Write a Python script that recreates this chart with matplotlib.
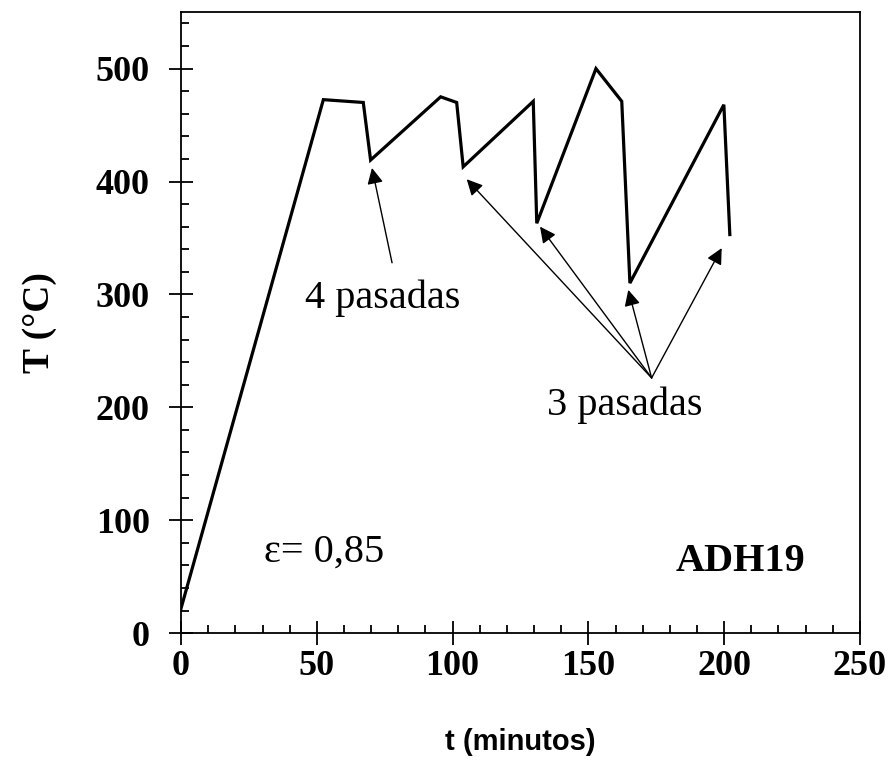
import numpy as np
import matplotlib.pyplot as plt
from matplotlib.ticker import MultipleLocator

# curva temperatura - tiempo (ADH19)
t = [0, 52.4, 67.1, 69.8, 95.6, 101.5, 103.9, 129.7, 131.0, 152.8, 162.3, 165.3, 199.9, 202.1]
T = [22, 472.5, 470, 419, 475, 470, 413, 471, 363, 500, 471, 310, 468, 353]

# flechas
tip_4 = (70.3, 412)
tail_4 = (77.7, 328)
tips_3 = [(105.2, 402), (132.2, 360), (164.7, 304), (199.1, 341)]
tail_3 = (173.3, 226)

serif = 'Liberation Serif'
sans = 'Liberation Sans'

fig = plt.figure(figsize=(8.92, 7.6), dpi=100)
ax = fig.add_axes([0.203, 0.167, 0.761, 0.817])

ax.plot(t, T, color='black', lw=2.3, solid_joinstyle='miter')

ap = dict(arrowstyle='-|>', color='black', lw=1.0, mutation_scale=24, shrinkA=0, shrinkB=0)
ax.annotate('', xy=tip_4, xytext=tail_4, arrowprops=ap)
for tp in tips_3:
    ax.annotate('', xy=tp, xytext=tail_3, arrowprops=ap)

ax.text(45.5, 297, '4 pasadas', family=serif, fontsize=29, ha='left', va='center')
ax.text(163.5, 202, '3 pasadas', family=serif, fontsize=29, ha='center', va='center')
ax.text(52.5, 72, 'ε= 0,85', family=serif, fontsize=29, ha='center', va='center')
ax.text(206, 63, 'ADH19', family=serif, fontsize=29, fontweight='bold', ha='center', va='center')

ax.set_xlim(0, 250)
ax.set_ylim(0, 550)
ax.xaxis.set_major_locator(MultipleLocator(50))
ax.xaxis.set_minor_locator(MultipleLocator(10))
ax.yaxis.set_major_locator(MultipleLocator(100))
ax.yaxis.set_minor_locator(MultipleLocator(20))
ax.set_yticks([0, 100, 200, 300, 400, 500])

ax.tick_params(which='major', direction='inout', length=17, width=1.3)
ax.tick_params(axis='y', which='major', pad=14)
ax.tick_params(axis='x', which='major', pad=4)
ax.tick_params(which='minor', direction='in', length=6, width=1.3)
ax.tick_params(top=False, right=False, which='both')
for lab in ax.get_xticklabels() + ax.get_yticklabels():
    lab.set_family(serif)
    lab.set_fontweight('bold')
    lab.set_fontsize(26)
for s in ax.spines.values():
    s.set_linewidth(1.3)

ax.set_xlabel('t (minutos)', family=sans, fontweight='bold', fontsize=21, labelpad=32)
ax.set_ylabel('T (°C)', family=serif, fontweight='bold', fontsize=27, labelpad=28)

fig.savefig('out.png', dpi=100)
